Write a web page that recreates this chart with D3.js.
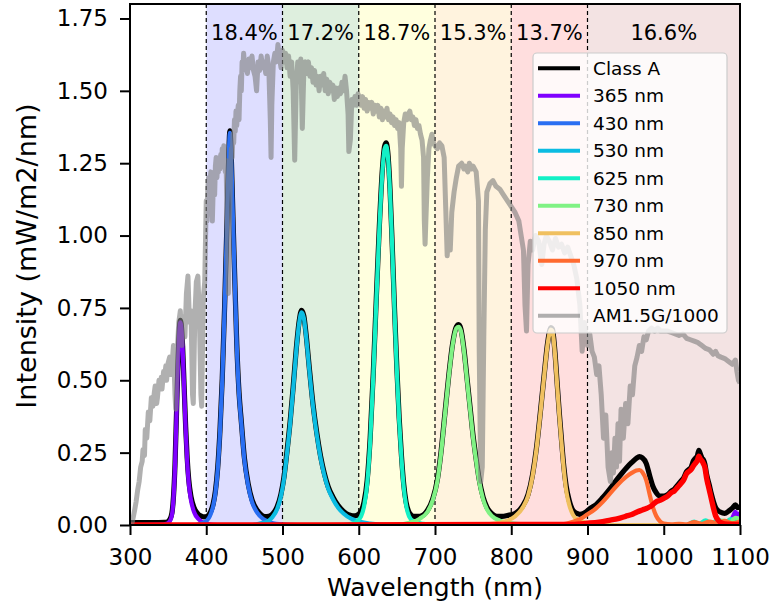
<!DOCTYPE html>
<html><head><meta charset="utf-8">
<script src="https://cdn.jsdelivr.net/npm/d3@7"></script>
<style>
html,body{margin:0;padding:0;background:#fff;}
svg text{font-family:"DejaVu Sans",sans-serif;fill:#000;}
</style></head><body>
<svg id="chart" width="778" height="612"></svg>
<script>
// Axis ticks
const xTicks = [300, 400, 500, 600, 700, 800, 900, 1000, 1100];
const yTicks = [0, 0.25, 0.5, 0.75, 1.0, 1.25, 1.5, 1.75];

// Spectral bands and the share of irradiance falling in each
const bandEdges = [400, 500, 600, 700, 800, 900, 1100];
const bandShares = ["18.4%", "17.2%", "18.7%", "15.3%", "13.7%", "16.6%"];
const bandTints = ["#0000ff", "#008000", "#ffff00", "#ffa500", "#ff0000", "#a52a2a"];

// Series labels and colours (legend order)
const seriesNames = ["Class A", "365 nm", "430 nm", "530 nm", "625 nm", "730 nm", "850 nm", "970 nm", "1050 nm", "AM1.5G/1000"];
const seriesColors = ["#000000", "#8000ff", "#2a6ff2", "#0cbce2", "#14f0c6", "#80f284", "#f0c060", "#ff6a30", "#ff0000", "#808080"];

// Combined simulator spectrum [nm, mW/m2/nm]
const classA = [[300,0.008],[330,0.008],[345,0.009],[350,0.012],[352,0.018],[355,0.042],[357,0.097],[359,0.207],[361,0.387],[363,0.567],[365,0.687],[366,0.707],[367,0.697],[369,0.618],[371,0.479],[373,0.34],[375,0.231],[377,0.157],[380,0.098],[384,0.06],[390,0.036],[394,0.03],[397,0.028],[401,0.03],[405,0.042],[409,0.072],[412,0.117],[415,0.197],[418,0.327],[421,0.507],[424,0.747],[427,1.027],[429,1.227],[431,1.362],[433,1.257],[435,1.067],[437,0.887],[440,0.627],[443,0.457],[446,0.357],[450,0.232],[455,0.142],[460,0.087],[467,0.05],[472,0.035],[477,0.029],[482,0.03],[487,0.038],[493,0.063],[498,0.107],[502,0.167],[506,0.257],[510,0.357],[514,0.477],[518,0.607],[522,0.707],[525,0.742],[528,0.722],[531,0.657],[535,0.547],[540,0.417],[545,0.317],[550,0.237],[555,0.177],[560,0.132],[566,0.097],[573,0.067],[580,0.047],[586,0.036],[590,0.033],[594,0.032],[597,0.033],[603,0.047],[607,0.08],[611,0.153],[615,0.302],[619,0.522],[623,0.782],[627,1.032],[631,1.23],[634,1.31],[636,1.32],[638,1.29],[641,1.16],[644,0.96],[647,0.74],[650,0.54],[653,0.37],[656,0.24],[659,0.14],[662,0.08],[665,0.05],[668,0.036],[672,0.03],[680,0.03],[690,0.05],[697,0.09],[703,0.155],[708,0.255],[713,0.385],[718,0.515],[723,0.625],[728,0.685],[731,0.692],[734,0.677],[738,0.607],[742,0.507],[746,0.407],[750,0.307],[754,0.227],[758,0.157],[763,0.097],[768,0.062],[775,0.038],[781,0.03],[788,0.03],[795,0.033],[805,0.04],[815,0.066],[822,0.105],[828,0.175],[833,0.265],[838,0.385],[843,0.515],[848,0.635],[852,0.682],[854,0.677],[857,0.607],[860,0.497],[863,0.388],[866,0.29],[869,0.2],[872,0.135],[876,0.085],[881,0.05],[886,0.04],[890,0.037],[895,0.04],[899,0.047],[905,0.06],[910,0.068],[920,0.095],[930,0.127],[940,0.162],[951,0.197],[958,0.216],[964,0.23],[968,0.236],[972,0.232],[977,0.213],[982,0.166],[986,0.132],[990,0.112],[995,0.1],[1000,0.1],[1005,0.105],[1010,0.117],[1014,0.124],[1018,0.137],[1022,0.15],[1026,0.162],[1030,0.185],[1033,0.192],[1036,0.2],[1039,0.222],[1042,0.232],[1044,0.238],[1046,0.258],[1048,0.245],[1050,0.232],[1052,0.225],[1054,0.21],[1056,0.178],[1058,0.155],[1060,0.135],[1062,0.112],[1064,0.092],[1066,0.074],[1068,0.06],[1071,0.05],[1074,0.045],[1080,0.04],[1085,0.048],[1090,0.058],[1094,0.07],[1097,0.06],[1100,0.062]];

// Individual LED channels [nm, mW/m2/nm]
const led365 = [[300,0],[340,0.001],[348,0.004],[352,0.012],[355,0.035],[357,0.09],[359,0.2],[361,0.38],[363,0.56],[365,0.68],[366,0.7],[367,0.69],[369,0.61],[371,0.47],[373,0.33],[375,0.22],[377,0.145],[380,0.085],[384,0.045],[390,0.02],[396,0.008],[402,0.003],[415,0],[1085,0],[1090,0.025],[1094,0.045],[1097,0.035],[1100,0.042]];
const led430 = [[300,0],[385,0],[392,0.004],[397,0.009],[401,0.016],[405,0.032],[409,0.065],[412,0.11],[415,0.19],[418,0.32],[421,0.5],[424,0.74],[427,1.02],[429,1.22],[431,1.355],[433,1.25],[435,1.06],[437,0.88],[440,0.62],[443,0.45],[446,0.35],[450,0.225],[455,0.135],[460,0.08],[467,0.042],[475,0.02],[485,0.008],[500,0.002],[520,0],[1100,0]];
const led530 = [[300,0],[460,0],[470,0.005],[480,0.012],[487,0.028],[493,0.055],[498,0.1],[502,0.16],[506,0.25],[510,0.35],[514,0.47],[518,0.6],[522,0.7],[525,0.735],[528,0.715],[531,0.65],[535,0.54],[540,0.41],[545,0.31],[550,0.23],[555,0.17],[560,0.125],[566,0.09],[573,0.06],[580,0.04],[590,0.022],[600,0.012],[615,0.005],[640,0],[1100,0]];
const led625 = [[300,0],[580,0],[590,0.004],[597,0.012],[603,0.03],[607,0.065],[611,0.14],[615,0.29],[619,0.51],[623,0.77],[627,1.02],[631,1.22],[634,1.3],[636,1.31],[638,1.28],[641,1.15],[644,0.95],[647,0.73],[650,0.53],[653,0.36],[656,0.23],[659,0.13],[662,0.07],[666,0.03],[672,0.012],[685,0.004],[700,0],[1030,0],[1040,0.012],[1046,0.004],[1055,0.016],[1062,0.006],[1072,0.018],[1080,0.008],[1088,0.02],[1100,0.012]];
const led730 = [[300,0],[650,0],[660,0.004],[670,0.01],[680,0.022],[690,0.045],[697,0.085],[703,0.15],[708,0.25],[713,0.38],[718,0.51],[723,0.62],[728,0.68],[731,0.685],[734,0.67],[738,0.6],[742,0.5],[746,0.4],[750,0.3],[754,0.22],[758,0.15],[763,0.09],[768,0.055],[775,0.03],[785,0.015],[800,0.006],[820,0.002],[850,0],[1050,0],[1058,0.01],[1066,0.004],[1078,0.015],[1086,0.006],[1094,0.025],[1100,0.02]];
const led850 = [[300,0],[760,0],[770,0.003],[785,0.008],[795,0.015],[805,0.03],[815,0.06],[822,0.1],[828,0.17],[833,0.26],[838,0.38],[843,0.51],[848,0.63],[852,0.675],[854,0.67],[857,0.6],[860,0.49],[863,0.38],[866,0.28],[869,0.19],[872,0.12],[876,0.07],[881,0.035],[888,0.017],[895,0.01],[905,0.004],[930,0],[1100,0]];
const led970 = [[300,0],[860,0],[873,0.005],[880,0.01],[890,0.02],[899,0.035],[910,0.055],[920,0.08],[930,0.11],[940,0.14],[951,0.167],[958,0.18],[964,0.188],[968,0.19],[972,0.182],[977,0.155],[982,0.1],[986,0.06],[990,0.032],[995,0.013],[1000,0.005],[1010,0.002],[1020,0.004],[1030,0.002],[1040,0.01],[1050,0.004],[1060,0.012],[1070,0.005],[1080,0.014],[1090,0.006],[1100,0.012]];
const led1050 = [[300,0],[880,0.002],[900,0.006],[915,0.01],[930,0.017],[940,0.022],[950,0.03],[958,0.036],[965,0.045],[972,0.052],[978,0.058],[984,0.066],[990,0.08],[995,0.085],[1000,0.092],[1005,0.1],[1010,0.112],[1014,0.118],[1018,0.13],[1022,0.142],[1026,0.155],[1030,0.178],[1033,0.185],[1036,0.192],[1039,0.205],[1042,0.215],[1044,0.222],[1046,0.238],[1048,0.228],[1050,0.222],[1052,0.212],[1054,0.198],[1056,0.165],[1058,0.14],[1060,0.118],[1062,0.095],[1064,0.072],[1066,0.05],[1068,0.032],[1071,0.018],[1074,0.01],[1080,0.004],[1100,0.002]];

// Reference solar spectrum, scaled by 1/1000
const am15g = [[300,0],[303,0.01],[306,0.05],[308,0.08],[310,0.12],[312,0.15],[314,0.2],[316,0.22],[317,0.26],[319,0.24],[320,0.33],[322,0.3],[324,0.39],[326,0.36],[328,0.44],[330,0.41],[332,0.46],[333,0.48],[335,0.42],[336,0.44],[338,0.5],[339,0.47],[341,0.51],[342,0.47],[344,0.53],[345,0.5],[347,0.55],[348,0.5],[350,0.56],[352,0.58],[354,0.52],[355,0.55],[357,0.62],[359,0.45],[360,0.4],[362,0.6],[364,0.7],[366,0.74],[368,0.62],[370,0.72],[372,0.65],[374,0.8],[376,0.86],[378,0.7],[380,0.74],[382,0.45],[383,0.42],[385,0.72],[387,0.84],[389,0.86],[391,0.72],[393,0.45],[394,0.41],[396,0.78],[398,0.84],
[400,1.12],[401,1.05],[402,1.16],[403,1.2],[404,1.1],[405,1.18],[406,1.22],[407,1.12],[408,1.05],[409,1.15],[410,1.2],[411,1.14],[412,1.24],[413,1.27],[414,1.2],[415,1.25],[416,1.22],[417,1.27],[418,1.23],[419,1.28],[420,1.24],[421,1.3],[422,1.27],[423,1.31],[424,1.25],[425,1.22],[426,1.26],[427,1.1],[428,0.95],[429,0.8],[430,0.98],[431,1.1],[432,1.25],[433,1.3],[434,1.27],[435,1.35],[436,1.32],[437,1.4],[438,1.36],[439,1.43],[440,1.38],[441,1.42],[442,1.45],[443,1.4],[444,1.5],[445,1.55],[446,1.5],[447,1.6],[448,1.57],[449,1.63],[450,1.6],
[452,1.6],[454,1.56],[456,1.61],[458,1.58],[460,1.62],[462,1.57],[464,1.55],[466,1.5],[468,1.6],[470,1.57],[472,1.62],[474,1.58],[476,1.6],[478,1.56],[480,1.62],[482,1.58],[484,1.4],[485,1.27],[486,1.45],[488,1.6],[490,1.63],[492,1.6],[494,1.66],[496,1.62],[498,1.58],[500,1.64],
[502,1.6],[504,1.63],[506,1.58],[508,1.62],[510,1.55],[512,1.6],[514,1.5],[516,1.26],[518,1.52],[520,1.6],[522,1.57],[524,1.61],[526,1.37],[528,1.57],[530,1.6],[532,1.56],[534,1.6],[536,1.55],[538,1.58],[540,1.53],[542,1.57],[544,1.52],[546,1.55],[548,1.5],[550,1.55],[552,1.52],[554,1.56],[556,1.5],[558,1.54],[560,1.49],[562,1.53],[564,1.5],[566,1.52],[568,1.47],[570,1.51],[572,1.48],[574,1.51],[576,1.49],[578,1.53],[580,1.5],[582,1.55],[584,1.5],[586,1.42],[587,1.29],[589,1.33],[591,1.47],[593,1.45],[595,1.48],[597,1.45],[599,1.49],
[601,1.47],[603,1.45],[605,1.48],[607,1.44],[609,1.47],[611,1.43],[613,1.46],[615,1.44],[617,1.46],[619,1.42],[621,1.45],[623,1.43],[625,1.45],[627,1.41],[629,1.44],[631,1.4],[633,1.43],[635,1.41],[637,1.44],[639,1.4],[641,1.42],[643,1.39],[645,1.41],[647,1.38],[649,1.4],[651,1.37],[653,1.39],[655,1.3],[656,1.17],[657,1.3],[659,1.39],[661,1.42],[663,1.4],[665,1.42],[667,1.43],[669,1.4],[671,1.41],[673,1.38],[675,1.4],[677,1.37],[679,1.38],[681,1.35],[683,1.33],[685,1.27],[686,1.05],[687,0.97],[688,1.05],[690,1.2],[692,1.3],[694,1.33],[696,1.35],[698,1.32],[700,1.31],
[703,1.3],[706,1.32],[709,1.31],[712,1.27],[714,1.1],[716,0.93],[718,1.02],[720,0.95],[722,1.08],[725,1.15],[728,1.2],[731,1.24],[735,1.25],[738,1.23],[740,1.24],[743,1.22],[745,1.25],[748,1.23],[750,1.24],[754,1.22],[757,1.12],[758,0.6],[760,0.15],[762,0.2],[764,0.65],[766,1.02],[768,1.15],[772,1.18],[776,1.19],[780,1.17],[785,1.16],[790,1.14],[795,1.12],[800,1.1],[805,1.08],[810,1.05],[813,1.0],[816,0.95],[818,0.76],[820,0.67],[822,0.9],[825,0.98],[828,0.95],[832,1.0],[836,0.98],[840,0.9],[843,0.97],[846,1.0],[850,0.98],[854,0.95],[858,0.99],[862,0.96],[866,0.97],[870,0.94],[874,0.96],[878,0.93],[882,0.9],[886,0.85],[890,0.76],[893,0.6],[896,0.7],[898,0.65],[900,0.62],[903,0.66],[906,0.6],[909,0.58],[912,0.52],[915,0.55],[918,0.45],[921,0.3],[924,0.38],[927,0.2],[930,0.15],[932,0.25],[934,0.18],[936,0.3],[938,0.2],[940,0.35],[942,0.22],[944,0.4],[947,0.3],[950,0.42],[953,0.35],[956,0.48],[959,0.45],[962,0.55],[965,0.58],[968,0.62],[971,0.6],[974,0.65],[977,0.64],[980,0.67],[984,0.68],[988,0.67],[992,0.68],[996,0.67],[1000,0.67],[1005,0.67],[1010,0.665],[1015,0.66],[1020,0.655],[1025,0.66],[1030,0.645],[1035,0.64],[1040,0.635],[1045,0.63],[1050,0.62],[1055,0.61],[1060,0.605],[1065,0.59],[1068,0.6],[1071,0.585],[1075,0.58],[1080,0.575],[1085,0.565],[1090,0.555],[1094,0.57],[1096,0.53],[1098,0.5],[1100,0.49]];

const ledSeries = [led365, led430, led530, led625, led730, led850, led970, led1050];

// ---- layout ----
const svg = d3.select("#chart");
const L = 130, R = 740, T = 4, B = 525;
const x = d3.scaleLinear().domain([300, 1100]).range([L, R]);
const y = d3.scaleLinear().domain([0, 1.8]).range([B, T]);

svg.append("defs").append("clipPath").attr("id", "plotClip")
  .append("rect").attr("x", L).attr("y", T).attr("width", R - L).attr("height", B - T);

const plot = svg.append("g").attr("clip-path", "url(#plotClip)");

// shaded bands
const bands = bandShares.map((s, i) => ({ x0: bandEdges[i], x1: bandEdges[i + 1], label: s, tint: bandTints[i] }));
plot.selectAll("rect.band").data(bands).join("rect")
  .attr("class", "band")
  .attr("x", d => x(d.x0)).attr("width", d => x(d.x1) - x(d.x0))
  .attr("y", T).attr("height", B - T)
  .attr("fill", d => d.tint).attr("fill-opacity", 0.13);

// band boundaries
plot.selectAll("line.edge").data(bandEdges.slice(0, -1)).join("line")
  .attr("class", "edge")
  .attr("x1", d => x(d)).attr("x2", d => x(d))
  .attr("y1", T).attr("y2", B)
  .attr("stroke", "#000").attr("stroke-width", 1.2)
  .attr("stroke-dasharray", "4,3");

const lineSmooth = d3.line().x(d => x(d[0])).y(d => y(d[1])).curve(d3.curveMonotoneX);
const lineRaw = d3.line().x(d => x(d[0])).y(d => y(d[1]));

// combined spectrum underneath the channels
plot.append("path").datum(classA)
  .attr("d", lineSmooth).attr("fill", "none")
  .attr("stroke", seriesColors[0]).attr("stroke-width", 5.2)
  .attr("stroke-linejoin", "round");

ledSeries.forEach((s, i) => {
  plot.append("path").datum(s)
    .attr("d", lineSmooth).attr("fill", "none")
    .attr("stroke", seriesColors[i + 1])
    .attr("stroke-width", i === 7 ? 5.4 : 4.2)
    .attr("stroke-linejoin", "round");
});

// reference spectrum on top
plot.append("path").datum(am15g)
  .attr("d", lineRaw).attr("fill", "none")
  .attr("stroke", seriesColors[9]).attr("stroke-opacity", 0.62)
  .attr("stroke-width", 5).attr("stroke-linejoin", "round");

// band share labels
svg.selectAll("text.share").data(bands).join("text")
  .attr("class", "share")
  .attr("x", d => x((d.x0 + d.x1) / 2)).attr("y", 40)
  .attr("text-anchor", "middle").style("font-size", "21px")
  .text(d => d.label);

// legend
const lg = svg.append("g");
lg.append("rect").attr("x", 533).attr("y", 53).attr("width", 194).attr("height", 280)
  .attr("rx", 4).attr("fill", "#fff").attr("fill-opacity", 0.8)
  .attr("stroke", "#cccccc").attr("stroke-width", 1.2);
seriesNames.forEach((name, i) => {
  const cy = 68.3 + i * 27.5;
  lg.append("line").attr("x1", 538).attr("x2", 580).attr("y1", cy).attr("y2", cy)
    .attr("stroke", seriesColors[i]).attr("stroke-width", 4)
    .attr("stroke-opacity", i === 9 ? 0.62 : 1);
  lg.append("text").attr("x", 593).attr("y", cy).attr("dy", "0.35em")
    .style("font-size", "18.5px").text(name);
});

// axes
const xAxis = svg.append("g").attr("transform", `translate(0,${B})`)
  .call(d3.axisBottom(x).tickValues(xTicks).tickFormat(d3.format("d")).tickSize(10).tickPadding(14));
const yAxis = svg.append("g").attr("transform", `translate(${L},0)`)
  .call(d3.axisLeft(y).tickValues(yTicks).tickFormat(d3.format(".2f")).tickSize(10).tickPadding(12));
[xAxis, yAxis].forEach(a => {
  a.select(".domain").remove();
  a.selectAll(".tick line").attr("stroke", "#000").attr("stroke-width", 2);
  a.selectAll(".tick text").attr("fill", "#000").style("font-size", "23px")
    .style("font-family", '"DejaVu Sans",sans-serif');
});

// frame
svg.append("rect").attr("x", L).attr("y", T).attr("width", R - L).attr("height", B - T)
  .attr("fill", "none").attr("stroke", "#000").attr("stroke-width", 2);

// axis titles
svg.append("text").attr("x", (L + R) / 2).attr("y", 596)
  .attr("text-anchor", "middle").style("font-size", "25px").text("Wavelength (nm)");
svg.append("text").attr("transform", `translate(36,256) rotate(-90)`)
  .attr("text-anchor", "middle").style("font-size", "27px").text("Intensity (mW/m2/nm)");
</script></body></html>
